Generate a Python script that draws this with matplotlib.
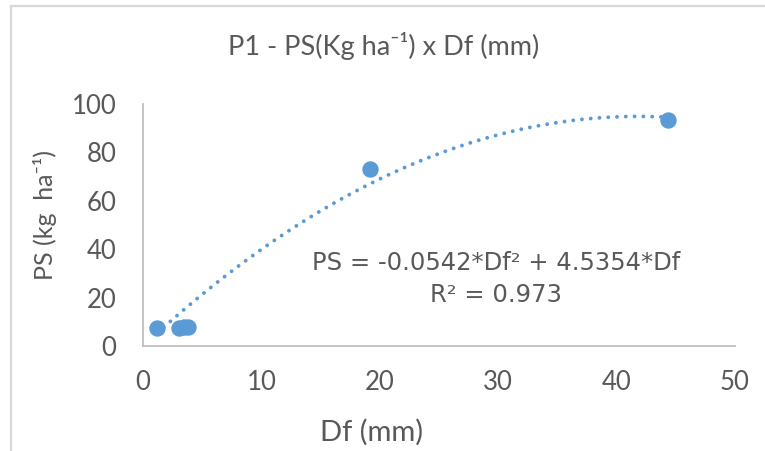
import numpy as np
import matplotlib
matplotlib.use("Agg")
import matplotlib.pyplot as plt
from matplotlib.lines import Line2D

# Measured points: Df (mm) vs PS (kg/ha)
df_mm = [1.2, 3.0, 3.5, 3.8, 19.2, 44.3]
ps_kg = [7.5, 7.5, 8.0, 8.0, 73.0, 93.5]

# Quadratic trendline through origin
coef_a = -0.0542
coef_b = 4.5354
r2 = 0.973

blue = "#5b9bd5"
gray_txt = "#595959"
font = ["Lato", "DejaVu Sans"]
W, H = 765, 451

fig = plt.figure(figsize=(7.65, 4.51), dpi=100)
ax = fig.add_axes([143 / W, 1 - 346 / H, 592 / W, 242 / H])

# Trendline over the data range
xs = np.linspace(min(df_mm), max(df_mm), 200)
ax.plot(xs, coef_a * xs ** 2 + coef_b * xs, color=blue, lw=2.8,
        linestyle=(0, (0.01, 2.25)), dash_capstyle="round", zorder=2)
ax.plot(df_mm, ps_kg, "o", color=blue, markersize=10.8, zorder=3)

ax.set_xlim(0, 50)
ax.set_ylim(0, 100)
ax.set_xticks([0, 10, 20, 30, 40, 50])
ax.set_yticks([0, 20, 40, 60, 80, 100])
for side in ["top", "right"]:
    ax.spines[side].set_visible(False)
for side in ["left", "bottom"]:
    ax.spines[side].set_color("#bfbfbf")
    ax.spines[side].set_linewidth(1.3)
ax.tick_params(length=0, labelsize=18.5, labelcolor=gray_txt)
ax.tick_params(axis="y", pad=19)
ax.tick_params(axis="x", pad=17)
for lbl in ax.get_xticklabels() + ax.get_yticklabels():
    lbl.set_family(font)

# Equation of the trendline (display pixels, origin bottom-left)
ax.text(496, H - 263, "PS = -0.0542*Df² + 4.5354*Df", transform=None, ha="center",
        va="center", fontsize=17.5, color=gray_txt, family="DejaVu Sans")
ax.text(496, H - 295, f"R² = {r2}", transform=None, ha="center", va="center",
        fontsize=17.5, color=gray_txt, family="DejaVu Sans")

# Titles placed in figure pixel coordinates
fig.text(384 / W, 1 - 46 / H, "P1 - PS(Kg ha⁻¹) x Df (mm)", ha="center",
         va="center", fontsize=19.5, color=gray_txt, family=font)
fig.text(372 / W, 1 - 432 / H, "Df (mm)", ha="center", va="center",
         fontsize=21, color=gray_txt, family=font)
fig.text(45 / W, 1 - 215 / H, "PS (kg  ha⁻¹)", ha="center", va="center",
         rotation=90, fontsize=18, color=gray_txt, family=font)

# Chart frame edges
fig.add_artist(Line2D([11 / W, 11 / W], [0, 1 - 6 / H], transform=fig.transFigure,
                      color="#d9d9d9", lw=1.6))
fig.add_artist(Line2D([11 / W, 1], [1 - 6 / H, 1 - 6 / H], transform=fig.transFigure,
                      color="#d9d9d9", lw=1.6))

fig.savefig("out.png", dpi=100)
